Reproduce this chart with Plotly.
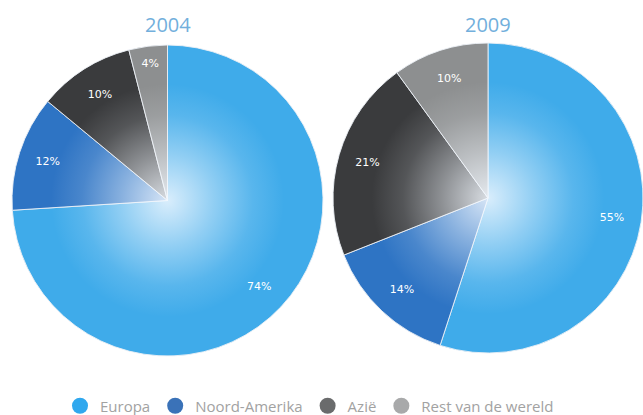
import base64
import plotly.graph_objects as go

# Herkomst per regio, aandeel in procenten
regions = ["Europa", "Noord-Amerika", "Azië", "Rest van de wereld"]
values_2004 = [74, 12, 10, 4]
values_2009 = [55, 14, 21, 10]
years = ["2004", "2009"]
colors = ["#3fabea", "#2e74c4", "#3a3b3d", "#8d8f90"]
legend_colors = ["#30a8ee", "#3a72b8", "#6a6b6c", "#a8a9aa"]

W, H = 643, 415

# pie placement in pixels: (left, right, top, bottom)
boxes = [(12, 323, 45, 356), (333, 643, 43, 353)]


def dom(box):
    l, r, t, b = box
    return dict(x=[l / W, min(r / W, 1.0)], y=[1 - b / H, 1 - t / H])


fig = go.Figure()

# filled slices
for vals, box in zip([values_2004, values_2009], boxes):
    fig.add_trace(go.Pie(
        labels=regions,
        values=vals,
        sort=False,
        direction="clockwise",
        rotation=0,
        domain=dom(box),
        marker=dict(colors=colors, line=dict(color="rgba(235,240,245,0.9)", width=1)),
        textinfo="none",
        showlegend=False,
        hoverinfo="label+value",
    ))

# percentage labels, set in the outer ring of each pie
for vals, box in zip([values_2004, values_2009], boxes):
    fig.add_trace(go.Pie(
        labels=regions,
        values=vals,
        sort=False,
        direction="clockwise",
        rotation=0,
        hole=0.62,
        domain=dom(box),
        marker=dict(colors=["rgba(0,0,0,0)"] * len(vals), line=dict(width=0)),
        texttemplate="%{value}%",
        textposition="inside",
        insidetextorientation="horizontal",
        textfont=dict(color="white", size=11, family="DejaVu Sans"),
        showlegend=False,
        hoverinfo="skip",
    ))

# legend entries with round markers
for name, col in zip(regions, legend_colors):
    fig.add_trace(go.Scatter(
        x=[None], y=[None], mode="markers", name=name,
        marker=dict(symbol="circle", size=16, color=col),
    ))

# soft radial highlight in the centre of each pie
svg = (
    '<svg xmlns="http://www.w3.org/2000/svg" width="200" height="200" viewBox="0 0 200 200">'
    '<defs><radialGradient id="g" cx="0.5" cy="0.5" r="0.5">'
    '<stop offset="0" stop-color="#f4f9ff" stop-opacity="0.85"/>'
    '<stop offset="0.3" stop-color="#f4f9ff" stop-opacity="0.45"/>'
    '<stop offset="0.55" stop-color="#f4f9ff" stop-opacity="0.14"/>'
    '<stop offset="0.75" stop-color="#f4f9ff" stop-opacity="0"/>'
    '</radialGradient></defs>'
    '<circle cx="100" cy="100" r="100" fill="url(#g)"/></svg>'
)
glow = "data:image/svg+xml;base64," + base64.b64encode(svg.encode()).decode()

images = []
annotations = []
for year, box in zip(years, boxes):
    l, r, t, b = box
    cx, cy = (l + r) / 2, (t + b) / 2
    d = min(r - l, b - t)
    images.append(dict(
        source=glow, xref="paper", yref="paper",
        x=cx / W, y=1 - cy / H, sizex=d / W, sizey=d / H,
        xanchor="center", yanchor="middle", sizing="stretch", layer="above",
    ))
    annotations.append(dict(
        text=year, x=cx / W, y=1 - 25 / H, xref="paper", yref="paper",
        showarrow=False, xanchor="center", yanchor="middle",
        font=dict(size=20, color="#72afdc", family="Open Sans"),
    ))

fig.update_layout(
    width=W, height=H,
    margin=dict(l=0, r=0, t=0, b=0, autoexpand=False),
    paper_bgcolor="white", plot_bgcolor="white",
    xaxis=dict(visible=False), yaxis=dict(visible=False),
    images=images,
    annotations=annotations,
    legend=dict(
        orientation="h", x=(80 - 20) / W, xanchor="left", y=1 - 406 / H, yanchor="middle",
        font=dict(size=15, color="#a2a2a2", family="Open Sans"),
        itemsizing="trace",
    ),
)

fig.write_html("out.html")
